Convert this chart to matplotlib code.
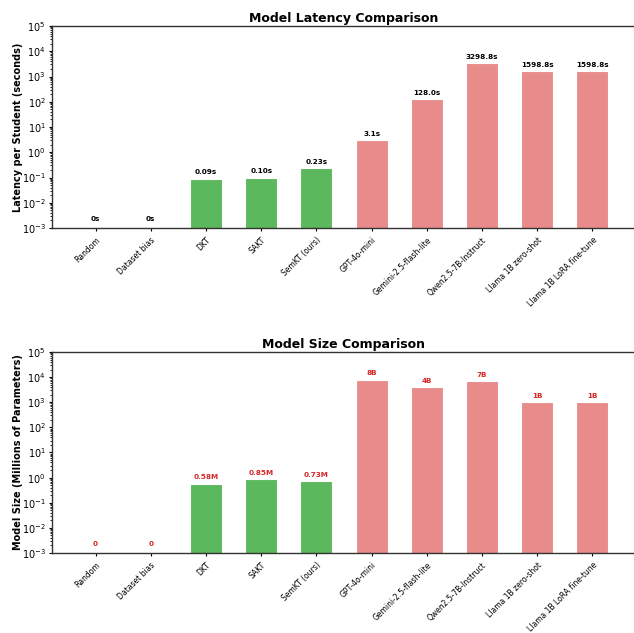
import matplotlib
matplotlib.use("Agg")
import matplotlib.pyplot as plt
import numpy as np

models = ["Random", "Dataset bias", "DKT", "SAKT", "SemKT (ours)",
          "GPT-4o-mini", "Gemini-2.5-flash-lite", "Qwen2.5-7B-Instruct",
          "Llama 1B zero-shot", "Llama 1B LoRA fine-tune"]
latency_s = [0, 0, 0.09, 0.10, 0.23, 3.1, 128.0, 3298.8, 1598.8, 1598.8]
latency_labels = ["0s", "0s", "0.09s", "0.10s", "0.23s", "3.1s", "128.0s",
                  "3298.8s", "1598.8s", "1598.8s"]
size_m = [0, 0, 0.58, 0.85, 0.73, 8000, 4000, 7000, 1000, 1000]
size_labels = ["0", "0", "0.58M", "0.85M", "0.73M", "8B", "4B", "7B", "1B", "1B"]
is_small = [True, True, True, True, True, False, False, False, False, False]

GREEN = "#5cb85c"
RED = "#e88b8b"
colors = [GREEN if s else RED for s in is_small]

fig = plt.figure(figsize=(6.34, 6.33), dpi=100)
ax1 = fig.add_axes([52 / 634, 1 - 228 / 633, 584 / 634, 202 / 633])
ax2 = fig.add_axes([52 / 634, 1 - 553 / 633, 584 / 634, 201 / 633])

x = np.arange(len(models))


def draw_panel(ax, values, labels, title, ylabel, label_color):
    ax.bar(x, values, width=0.58, color=colors, edgecolor="white",
           linewidth=0.8)
    ax.set_yscale("log")
    ax.set_ylim(1e-3, 1e5)
    ax.set_xlim(-0.79, 9.79)
    for xi, v, lab in zip(x, values, labels):
        y = v * 1.35 if v > 0 else 1.8e-3
        ax.text(xi, y, lab, ha="center", va="bottom", fontsize=5.2,
                fontweight="bold", color=label_color)
    ax.set_title(title, fontsize=9, fontweight="bold", pad=3)
    ax.set_ylabel(ylabel, fontsize=7, fontweight="bold")
    ax.yaxis.set_label_coords(-0.05, 0.5)
    ax.set_xticks(x)
    ax.set_xticklabels(models, rotation=45, ha="right", fontsize=5.5,
                       rotation_mode="anchor")
    ax.tick_params(axis="y", which="major", labelsize=7, pad=2, length=2.5)
    ax.tick_params(axis="y", which="minor", length=1.4)
    ax.tick_params(axis="x", pad=3, length=2.5)
    for sp in ax.spines.values():
        sp.set_linewidth(1.0)
        sp.set_color("#333333")


draw_panel(ax1, latency_s, latency_labels, "Model Latency Comparison",
           "Latency per Student (seconds)", "black")
draw_panel(ax2, size_m, size_labels, "Model Size Comparison",
           "Model Size (Millions of Parameters)", "#d62728")

fig.savefig("out.png", dpi=100)
